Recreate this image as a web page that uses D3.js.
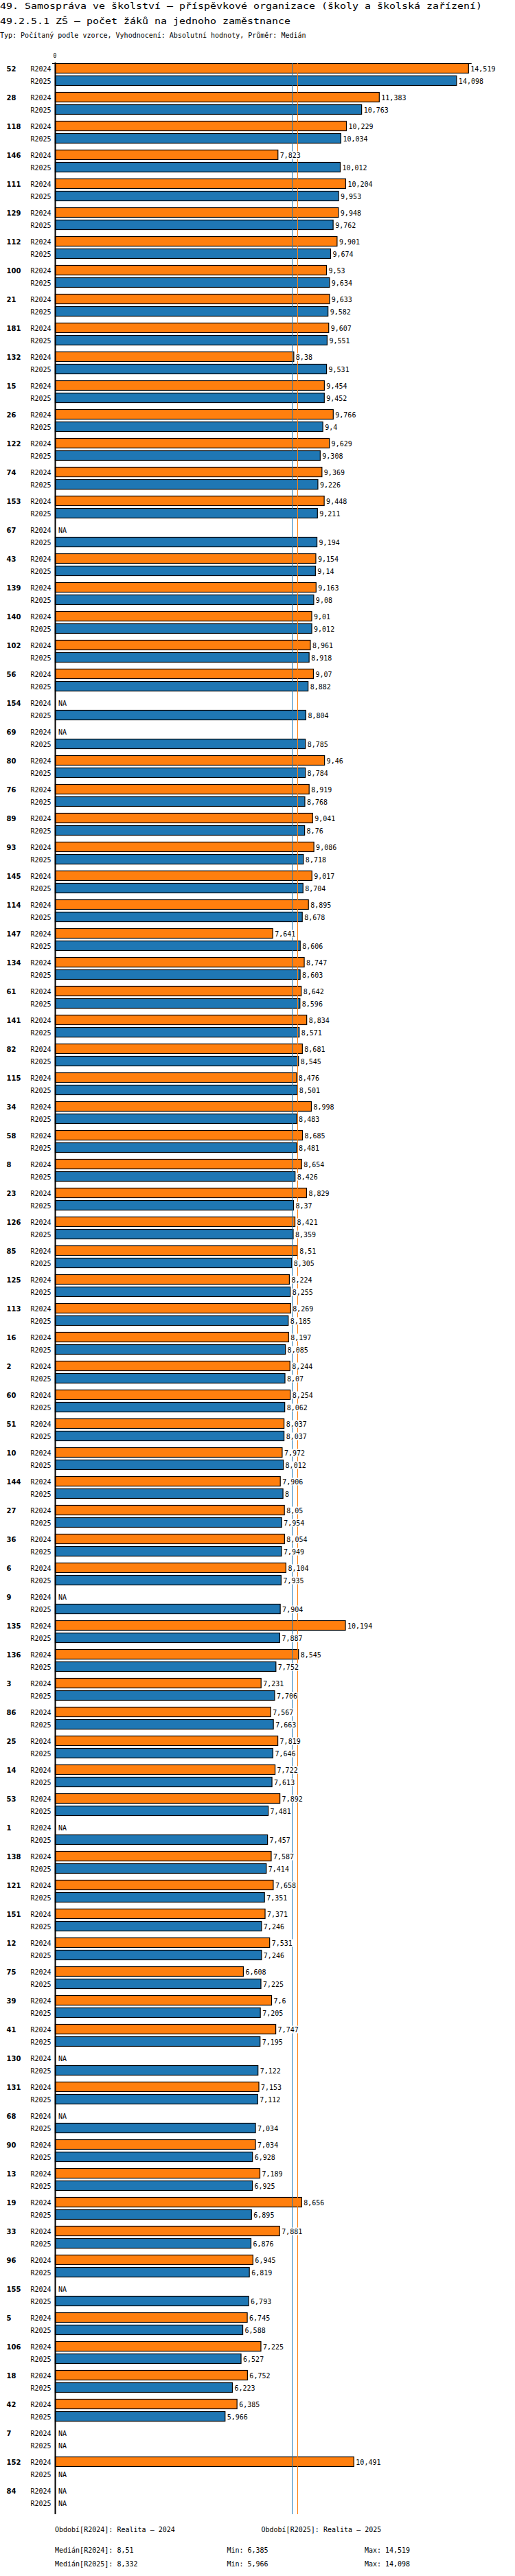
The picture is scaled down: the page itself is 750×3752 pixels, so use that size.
<!DOCTYPE html>
<html>
<head>
<meta charset="utf-8">
<script src="https://d3js.org/d3.v7.min.js"></script>
<style>
    body { margin: 0; background: #fff; }
    text { font-family: "DejaVu Sans Mono", monospace; font-size: 10px; fill: #000; }
</style>
</head>
<body>
<svg id="chart" width="750" height="3752"></svg>
<script>
    var TITLE1 = "49. Samospráva ve školství – příspěvkové organizace (školy a školská zařízení)";
    var TITLE2 = "49.2.5.1 ZŠ – počet žáků na jednoho zaměstnance";
    var SUBTITLE = "Typ: Počítaný podle vzorce, Vyhodnocení: Absolutní hodnoty, Průměr: Medián";

    var periods = ["R2024", "R2025"];
    var periodNames = ["Realita – 2024", "Realita – 2025"];

    var groups = ["52", "28", "118", "146", "111", "129", "112", "100", "21", "181",
        "132", "15", "26", "122", "74", "153", "67", "43", "139", "140",
        "102", "56", "154", "69", "80", "76", "89", "93", "145", "114",
        "147", "134", "61", "141", "82", "115", "34", "58", "8", "23",
        "126", "85", "125", "113", "16", "2", "60", "51", "10", "144",
        "27", "36", "6", "9", "135", "136", "3", "86", "25", "14",
        "53", "1", "138", "121", "151", "12", "75", "39", "41", "130",
        "131", "68", "90", "13", "19", "33", "96", "155", "5", "106",
        "18", "42", "7", "152", "84"];

    var r2024 = [14.519, 11.383, 10.229, 7.823, 10.204, 9.948, 9.901, 9.53, 9.633, 9.607,
        8.38, 9.454, 9.766, 9.629, 9.369, 9.448, null, 9.154, 9.163, 9.01,
        8.961, 9.07, null, null, 9.46, 8.919, 9.041, 9.086, 9.017, 8.895,
        7.641, 8.747, 8.642, 8.834, 8.681, 8.476, 8.998, 8.685, 8.654, 8.829,
        8.421, 8.51, 8.224, 8.269, 8.197, 8.244, 8.254, 8.037, 7.972, 7.906,
        8.05, 8.054, 8.104, null, 10.194, 8.545, 7.231, 7.567, 7.819, 7.722,
        7.892, null, 7.587, 7.658, 7.371, 7.531, 6.608, 7.6, 7.747, null,
        7.153, null, 7.034, 7.189, 8.656, 7.881, 6.945, null, 6.745, 7.225,
        6.752, 6.385, null, 10.491, null];

    var r2025 = [14.098, 10.763, 10.034, 10.012, 9.953, 9.762, 9.674, 9.634, 9.582, 9.551,
        9.531, 9.452, 9.4, 9.308, 9.226, 9.211, 9.194, 9.14, 9.08, 9.012,
        8.918, 8.882, 8.804, 8.785, 8.784, 8.768, 8.76, 8.718, 8.704, 8.678,
        8.606, 8.603, 8.596, 8.571, 8.545, 8.501, 8.483, 8.481, 8.426, 8.37,
        8.359, 8.305, 8.255, 8.185, 8.085, 8.07, 8.062, 8.037, 8.012, 8,
        7.954, 7.949, 7.935, 7.904, 7.887, 7.752, 7.706, 7.663, 7.646, 7.613,
        7.481, 7.457, 7.414, 7.351, 7.246, 7.246, 7.225, 7.205, 7.195, 7.122,
        7.112, 7.034, 6.928, 6.925, 6.895, 6.876, 6.819, 6.793, 6.588, 6.527,
        6.223, 5.966, null, null, null];

    var series = [r2024, r2025];
    var colors = ["#ff7f0e", "#1f77b4"];

    var TOP = 92, GROUP_H = 42, ROW_H = 18, BAR_H = 15;
    var X0 = 80;

    var svg = d3.select("#chart");
    svg.append("rect").attr("width", 750).attr("height", 3752).attr("fill", "#fff");

    var x = d3.scaleLinear().domain([0, 14.64]).range([X0, X0 + 14.64 * 41.45]);
    var yGroup = d3.scaleBand().domain(groups).range([TOP, TOP + groups.length * GROUP_H]);
    var bottom = TOP + groups.length * GROUP_H;

    function fmt(v) {
        return String(v).replace(".", ",");
    }

    // titles - the original font is wider than it is tall, stretch it
    svg.append("text").attr("x", 0).attr("y", 13).style("font-size", "12px")
        .attr("textLength", TITLE1.length * 9).attr("lengthAdjust", "spacingAndGlyphs").text(TITLE1);
    svg.append("text").attr("x", 0).attr("y", 35).style("font-size", "12px")
        .attr("textLength", TITLE2.length * 9).attr("lengthAdjust", "spacingAndGlyphs").text(TITLE2);
    svg.append("text").attr("x", 0).attr("y", 55).text(SUBTITLE);

    // top axis line with the 0 tick
    svg.append("line").attr("x1", X0 - 4).attr("x2", x.range()[1])
        .attr("y1", TOP + 0.5).attr("y2", TOP + 0.5).attr("stroke", "#000");
    svg.append("text").attr("x", x(0)).attr("y", 84).attr("text-anchor", "middle")
        .style("font-size", "8px").text("0");

    var rows = [];
    groups.forEach(function(g, i) {
        series.forEach(function(s, j) {
            rows.push({group: g, gi: i, si: j, value: s[i], y: yGroup(g) + j * ROW_H});
        });
    });

    // group labels
    svg.append("g").selectAll("text").data(groups).join("text")
        .attr("x", 9.5)
        .attr("y", function(d) { return yGroup(d) + BAR_H / 2 + 4; })
        .style("font-family", "'DejaVu Sans', sans-serif")
        .style("font-weight", "bold")
        .text(function(d) { return d; });

    // period labels
    svg.append("g").selectAll("text").data(rows).join("text")
        .attr("x", 74.5)
        .attr("y", function(d) { return d.y + BAR_H / 2 + 4; })
        .attr("text-anchor", "end")
        .text(function(d) { return periods[d.si]; });

    // bars
    var withValue = rows.filter(function(d) { return d.value != null; });
    svg.append("g").selectAll("rect").data(withValue).join("rect")
        .attr("x", x(0) + 0.5)
        .attr("y", function(d) { return d.y + 0.5; })
        .attr("width", function(d) { return x(d.value) - x(0); })
        .attr("height", BAR_H - 1)
        .attr("fill", function(d) { return colors[d.si]; })
        .attr("stroke", "#000")
        .attr("stroke-width", 1.2);

    // median lines
    var medians = series.map(function(s) { return d3.median(s.filter(function(v) { return v != null; })); });
    var mins = series.map(function(s) { return d3.min(s); });
    var maxs = series.map(function(s) { return d3.max(s); });

    svg.append("g").selectAll("line").data(medians).join("line")
        .attr("x1", function(d) { return Math.round(x(d)) + 0.5; })
        .attr("x2", function(d) { return Math.round(x(d)) + 0.5; })
        .attr("y1", TOP).attr("y2", bottom)
        .attr("stroke", function(d, i) { return colors[i]; });

    // value labels, white box behind so the median lines break under them
    var labels = svg.append("g").selectAll("g").data(rows).join("g")
        .attr("transform", function(d) {
            var lx = d.value == null ? x(0) + 5 : x(d.value) + 3.5;
            return "translate(" + lx + "," + (d.y + BAR_H / 2 + 4) + ")";
        });
    labels.append("rect").attr("fill", "#fff");
    labels.append("text").text(function(d) { return d.value == null ? "NA" : fmt(d.value); });
    labels.each(function() {
        var t = d3.select(this).select("text").node();
        d3.select(this).select("rect")
            .attr("x", -0.5).attr("y", -9)
            .attr("width", t.getComputedTextLength() + 1).attr("height", 11);
    });

    // axis line
    svg.append("line").attr("x1", X0 + 0.5).attr("x2", X0 + 0.5)
        .attr("y1", TOP - 1).attr("y2", bottom)
        .attr("stroke", "#000").attr("stroke-width", 2);

    // legend
    var lg = svg.append("g");
    periods.forEach(function(p, i) {
        var lx = [80, 380.5][i];
        lg.append("text").attr("x", lx).attr("y", 3688).text("Období[" + p + "]:");
        lg.append("text").attr("x", lx + 90.5).attr("y", 3688).text(periodNames[i]);
        var ly = 3718 + i * 20;
        lg.append("text").attr("x", 80).attr("y", ly).text("Medián[" + p + "]:");
        lg.append("text").attr("x", 170.5).attr("y", ly).text(fmt(medians[i]));
        lg.append("text").attr("x", 330.5).attr("y", ly).text("Min:");
        lg.append("text").attr("x", 360.5).attr("y", ly).text(fmt(mins[i]));
        lg.append("text").attr("x", 531).attr("y", ly).text("Max:");
        lg.append("text").attr("x", 561).attr("y", ly).text(fmt(maxs[i]));
    });
</script>
</body>
</html>
